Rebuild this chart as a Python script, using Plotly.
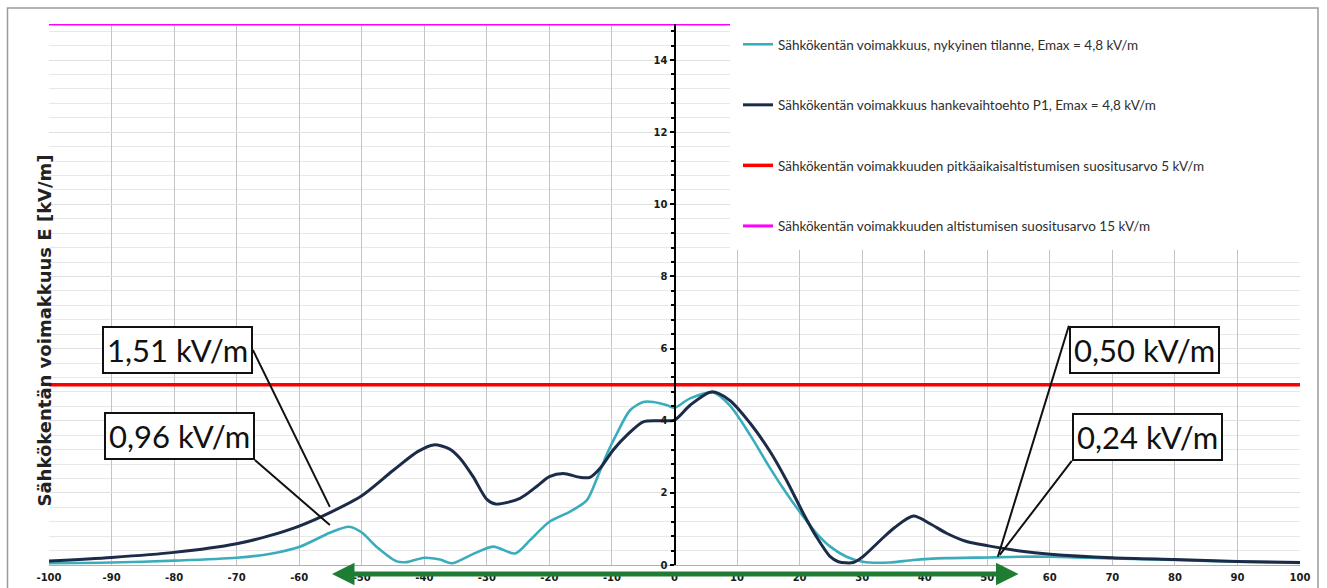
import plotly.graph_objects as go

# ---- data ----
x_now = [-100, -90, -80, -70, -65, -60, -55, -52, -50, -47.6, -44.4, -42.8, -40, -37.5, -35.6,
         -32.5, -29, -25.5, -23.1, -20, -16.7, -14, -12.4, -10.8, -9.2, -7.1, -5, -3.4, -1.2, 0,
         2.5, 6.2, 8.8, 12.1, 15.3, 17.9, 20.6, 22.7, 24.9, 27.5, 30.1, 34.4, 38.2, 43.5, 50.2,
         55, 60, 70, 80, 90, 100]
e_now = [0.05, 0.07, 0.12, 0.20, 0.30, 0.50, 0.90, 1.06, 0.90, 0.50, 0.10, 0.08, 0.20, 0.15, 0.05,
         0.28, 0.51, 0.32, 0.69, 1.20, 1.48, 1.80, 2.40, 3.08, 3.65, 4.29, 4.52, 4.52, 4.43, 4.36,
         4.62, 4.78, 4.43, 3.60, 2.68, 1.99, 1.34, 0.88, 0.51, 0.23, 0.09, 0.07, 0.14, 0.19, 0.21,
         0.23, 0.23, 0.18, 0.14, 0.09, 0.06]

x_p1 = [-100, -90, -80, -70, -65, -60, -55, -50, -45, -41, -38.5, -36, -34.3, -32.2, -30, -28.6,
        -24.7, -22.1, -20, -17.8, -15.1, -13.5, -11.9, -9.8, -7.6, -5, -2.3, 0, 2.5, 5.9, 8.8, 12.1,
        15.3, 17.9, 20.6, 22.7, 24.9, 26.2, 28.6, 30.1, 33, 35.2, 38.2, 40.8, 43.5, 46.7, 50.2, 55.2,
        60.1, 70, 80, 90, 100]
e_p1 = [0.11, 0.21, 0.35, 0.59, 0.80, 1.08, 1.46, 1.92, 2.62, 3.15, 3.33, 3.22, 2.96, 2.45, 1.82, 1.69,
        1.85, 2.17, 2.45, 2.54, 2.43, 2.43, 2.68, 3.19, 3.60, 3.97, 4.00, 4.02, 4.43, 4.80, 4.57, 3.93,
        3.14, 2.35, 1.43, 0.78, 0.23, 0.09, 0.07, 0.23, 0.70, 1.04, 1.36, 1.15, 0.88, 0.65, 0.53, 0.39,
        0.30, 0.20, 0.15, 0.10, 0.07]

limit_x = [-100, 100]
limit_long = [5, 5]      # pitkäaikaisaltistumisen suositusarvo
limit_short = [15, 15]   # altistumisen suositusarvo
corridor = [-55, 55]     # johtoalue (green arrow)

x_ticks = list(range(-100, 101, 10))
x_tick_labels = [str(v) for v in x_ticks]
y_ticks = [0, 2, 4, 6, 8, 10, 12, 14]
y_tick_labels = [str(v) for v in y_ticks]

names = [
    "Sähkökentän voimakkuus, nykyinen tilanne, Emax = 4,8 kV/m",
    "Sähkökentän voimakkuus hankevaihtoehto P1, Emax = 4,8 kV/m",
    "Sähkökentän voimakkuuden pitkäaikaisaltistumisen suositusarvo 5 kV/m",
    "Sähkökentän voimakkuuden altistumisen suositusarvo 15 kV/m",
]

callout_text = ["1,51 kV/m", "0,96 kV/m", "0,50 kV/m", "0,24 kV/m"]
callout_x = [-55.1, -55.1, 51.7, 52.0]
callout_y = [1.61, 1.11, 0.23, 0.28]

# ---- figure ----
fig = go.Figure()
fig.add_trace(go.Scatter(x=x_now, y=e_now, mode="lines", name=names[0], legendgroup="a",
                         line=dict(color="#3aadbd", width=2.6, shape="spline", smoothing=0.8)))
fig.add_trace(go.Scatter(x=x_p1, y=e_p1, mode="lines", name=names[1], legendgroup="b",
                         line=dict(color="#1c2b48", width=3, shape="spline", smoothing=0.8)))
fig.add_trace(go.Scatter(x=limit_x, y=limit_long, mode="lines", name=names[2], legendgroup="c",
                         line=dict(color="#ff0000", width=3.5)))
fig.add_trace(go.Scatter(x=limit_x, y=limit_short, mode="lines", name=names[3], legendgroup="d",
                         line=dict(color="#ff00ff", width=3), cliponaxis=False))

W, H = 1327, 588
ml, mr, mt, mb = 49, 27, 24, 23
pw, ph = W - ml - mr, H - mt - mb


def px_x(p):
    return (p - ml) / pw


def px_y(p):
    return (H - mb - p) / ph


tick_font = dict(family="DejaVu Sans", size=10, color="#1a1a1a", weight="bold")

fig.update_layout(
    width=W, height=H,
    margin=dict(l=ml, r=mr, t=mt, b=mb),
    paper_bgcolor="white", plot_bgcolor="white",
    showlegend=True,
    legend=dict(x=px_x(738), y=px_y(29), xanchor="left", yanchor="top",
                traceorder="grouped", tracegroupgap=40,
                font=dict(family="Lato", size=13.5, color="#2e2e2e"),
                bgcolor="rgba(0,0,0,0)"),
    xaxis=dict(range=[-100, 100], tickvals=x_ticks, ticktext=x_tick_labels,
               showgrid=True, gridcolor="#c4c4c4",
               gridwidth=1, zeroline=False, showline=True, linecolor="#b0b0b0",
               ticks="", tickfont=tick_font, automargin=False, ticklabelstandoff=3),
    yaxis=dict(range=[0, 15], tickvals=y_ticks, ticktext=y_tick_labels,
               showgrid=True, gridcolor="#e0e0e0",
               zeroline=False, showline=True, linecolor="black", linewidth=2,
               anchor="free", position=0.5, side="left",
               ticks="outside", ticklen=4, tickcolor="black", tickwidth=2,
               tickfont=tick_font, automargin=False,
               minor=dict(dtick=0.4, showgrid=True, gridcolor="#e8e8e8",
                          ticks="outside", ticklen=3, tickcolor="black", tickwidth=1.5)),
)

# white area behind the legend (hides grid there)
fig.add_shape(type="rect", xref="paper", yref="paper", layer="above",
              x0=px_x(730), x1=px_x(1316), y0=px_y(250), y1=px_y(10),
              fillcolor="white", line=dict(width=0))
# outer chart border
fig.add_shape(type="rect", xref="paper", yref="paper", layer="above",
              x0=px_x(7.5), x1=px_x(1318), y0=px_y(600), y1=px_y(8),
              fillcolor="rgba(0,0,0,0)", line=dict(color="#9a9a9a", width=1.5))

# y-axis title
fig.add_annotation(xref="paper", yref="paper", x=px_x(31), y=px_y(331),
                   text="Sähkökentän voimakkuus E [kV/m]", textangle=-90, showarrow=False,
                   font=dict(family="DejaVu Sans", size=18, color="#222222", weight="bold"))

# green double-headed arrow (corridor)
fig.add_annotation(x=corridor[1], y=px_y(574), xref="x", yref="paper",
                   ax=corridor[0], ay=0, axref="x", ayref="pixel",
                   text="", showarrow=True, arrowhead=2, startarrowhead=2,
                   arrowside="end+start", arrowwidth=5, arrowsize=0.9, startarrowsize=0.9,
                   arrowcolor="#1e7d32")

# callout boxes
tails = [(-77, -157, "right", "middle"), (-75, -65, "right", "bottom"),
         (71, -231, "left", "top"), (72, -94, "left", "bottom")]
for t, cx, cy, (ax, ay, xa, ya) in zip(callout_text, callout_x, callout_y, tails):
    fig.add_annotation(x=cx, y=cy, xref="x", yref="y", text=t,
                       ax=ax, ay=ay, xanchor=xa, yanchor=ya,
                       showarrow=True, arrowhead=0, arrowwidth=2, arrowcolor="#111111",
                       font=dict(family="Lato", size=31, color="#111111"),
                       bgcolor="white", bordercolor="#111111", borderwidth=2, borderpad=3)

fig.write_html("out.html", config={"displayModeBar": False},
               post_script="document.body.style.margin='0px';")
